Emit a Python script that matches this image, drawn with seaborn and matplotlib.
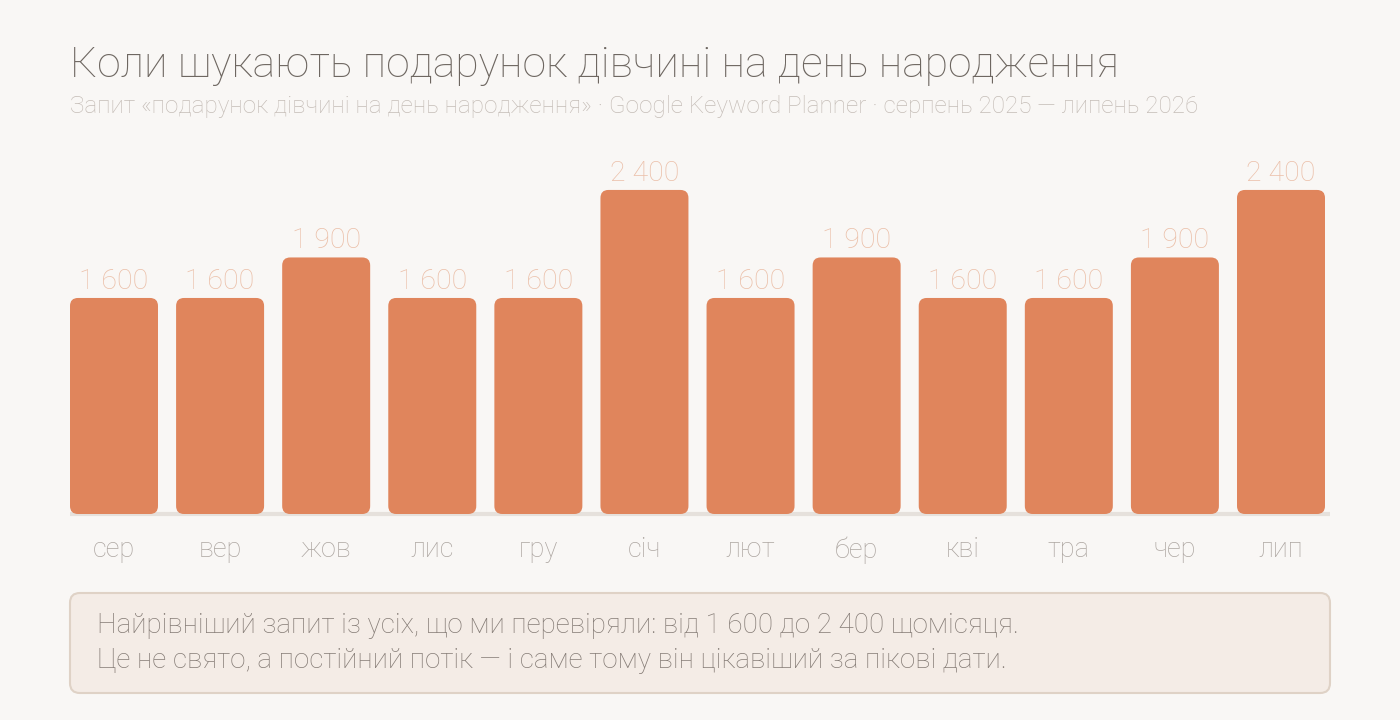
import matplotlib
matplotlib.use("Agg")
import matplotlib.pyplot as plt
from matplotlib.patches import FancyBboxPatch
import seaborn as sns
import pandas as pd

months = ["сер", "вер", "жов", "лис", "гру", "січ", "лют", "бер", "кві", "тра", "чер", "лип"]
searches = [1600, 1600, 1900, 1600, 1600, 2400, 1600, 1900, 1600, 1600, 1900, 2400]
value_labels = ["1 600", "1 600", "1 900", "1 600", "1 600", "2 400",
                "1 600", "1 900", "1 600", "1 600", "1 900", "2 400"]

title = "Коли шукають подарунок дівчині на день народження"
subtitle = ("Запит «подарунок дівчині на день народження» · Google Keyword Planner · "
            "серпень 2025 — липень 2026")
note = ("Найрівніший запит із усіх, що ми перевіряли: від 1 600 до 2 400 щомісяця.\n"
        "Це не свято, а постійний потік — і саме тому він цікавіший за пікові дати.")

BG = "#F9F7F5"
BAR = "#E0855C"

sns.set_theme(style="white")
plt.rcParams["font.family"] = ["Roboto", "DejaVu Sans"]
plt.rcParams["font.weight"] = "light"

df = pd.DataFrame({"month": months, "searches": searches})

fig = plt.figure(figsize=(14, 7.2), dpi=100, facecolor=BG)
ax = fig.add_axes([70 / 1400, 0.2861, 1255 / 1400, 0.5056])
ax.set_facecolor(BG)

bw = 88 / 106.1
sns.barplot(data=df, x="month", y="searches", color=BAR, width=bw,
            saturation=1, ax=ax)
ax.set_xlim(-bw / 2, len(months) - 1 + bw / 2)
ax.set_ylim(0, 2696)

# swap plain rectangles for rounded ones
px_x = 1255 / (len(months) - 1 + bw)
px_y = 364 / 2696
aspect = (1 / px_y) / (1 / px_x)
for p in list(ax.patches):
    x, y = p.get_x(), p.get_y()
    w, h = p.get_width(), p.get_height()
    p.remove()
    ax.add_patch(FancyBboxPatch((x, y), w, h,
                                boxstyle=f"round,pad=0,rounding_size={8 / px_x}",
                                mutation_aspect=aspect, fc=BAR, ec="none", zorder=2))

for i, (v, lab) in enumerate(zip(searches, value_labels)):
    ax.text(i, v + 25, lab, ha="center", va="bottom", fontsize=20.5,
            color="#EBBFA8", fontweight="light")

xl = ax.get_xlim()
ax.hlines(0, xl[0], xl[1] + 5 / px_x, color="#E6E1DC", lw=3, zorder=1, clip_on=False)
sns.despine(ax=ax, left=True, bottom=True)
ax.set_yticks([])
ax.set_xlabel("")
ax.set_ylabel("")
ax.tick_params(axis="x", length=0, pad=16, labelsize=19.5, labelcolor="#ADA6A1")
for t in ax.get_xticklabels():
    t.set_fontweight("light")

fig.text(70 / 1400, 1 - 66 / 720, title, fontsize=30.8, color="#6E6761",
         fontweight="light", va="center", ha="left")
fig.text(70 / 1400, 1 - 106 / 720, subtitle, fontsize=17.5, color="#C5BDB7",
         fontweight="light", va="center", ha="left")

box = FancyBboxPatch((70 / 1400, 1 - 693 / 720), 1260 / 1400, 100 / 720,
                     boxstyle="round,pad=0,rounding_size=0.007",
                     mutation_aspect=1400 / 720,
                     transform=fig.transFigure, fc="#F4ECE6", ec="#DFD2C6", lw=1.5)
fig.patches.append(box)
fig.text(97 / 1400, 1 - 643 / 720, note, fontsize=20, color="#857C76",
         fontweight="light", va="center", ha="left", linespacing=1.35)

fig.savefig("out.png", dpi=100, facecolor=BG)
